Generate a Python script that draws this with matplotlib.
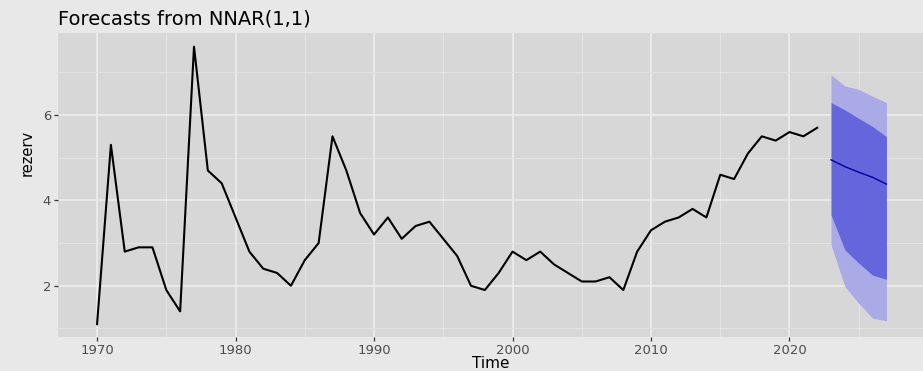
import matplotlib
matplotlib.use("Agg")
import matplotlib.pyplot as plt
import numpy as np

# ---- data ----
years = list(range(1970, 2023))
rezerv = [1.1, 5.3, 2.8, 2.9, 2.9, 1.9, 1.4, 7.6, 4.7, 4.4,
          3.6, 2.8, 2.4, 2.3, 2.0, 2.6, 3.0, 5.5, 4.7, 3.7,
          3.2, 3.6, 3.1, 3.4, 3.5, 3.1, 2.7, 2.0, 1.9, 2.3,
          2.8, 2.6, 2.8, 2.5, 2.3, 2.1, 2.1, 2.2, 1.9, 2.8,
          3.3, 3.5, 3.6, 3.8, 3.6, 4.6, 4.5, 5.1, 5.5, 5.4,
          5.6, 5.5, 5.7]
fc_years = [2023, 2024, 2025, 2026, 2027]
fc_mean = [4.95, 4.79, 4.66, 4.54, 4.38]
lo80 = [3.66, 2.84, 2.53, 2.25, 2.15]
hi80 = [6.29, 6.12, 5.92, 5.73, 5.49]
lo95 = [2.96, 1.98, 1.59, 1.24, 1.18]
hi95 = [6.94, 6.68, 6.60, 6.44, 6.29]
x_ticks = [1970, 1980, 1990, 2000, 2010, 2020]
y_ticks = [2, 4, 6]

W, H = 923, 371
fig = plt.figure(figsize=(W / 100, H / 100), dpi=100)
fig.patch.set_facecolor("#e8e8e8")
ax = fig.add_axes([58 / W, (H - 337) / H, (W - 58) / W, (337 - 33) / H])
ax.set_facecolor("#d7d7d7")

ax.set_xlim(1967.18, 2029.64)
ax.set_ylim(0.80, 7.92)

# grid
ax.set_xticks(x_ticks)
ax.set_xticks([1975, 1985, 1995, 2005, 2015, 2025], minor=True)
ax.set_yticks(y_ticks)
ax.set_yticks([1, 3, 5, 7], minor=True)
ax.grid(which="major", color="#efefef", linewidth=1.1)
ax.grid(which="minor", color="#e6e6e6", linewidth=0.6)
ax.set_axisbelow(True)

for s in ax.spines.values():
    s.set_visible(False)

ax.tick_params(which="major", length=3, width=0.9, color="#333333",
               labelsize=9.5, labelcolor="#4d4d4d", pad=2)
ax.tick_params(which="minor", length=0)

ax.fill_between(fc_years, lo95, hi95, color="#aaaae6", linewidth=0)
ax.fill_between(fc_years, lo80, hi80, color="#6666dc", linewidth=0)
ax.plot(fc_years, fc_mean, color="#0000a0", linewidth=1.0)
ax.plot(years, rezerv, color="black", linewidth=1.5)

fig.text(491 / W, 1 - 363.5 / H, "Time", fontsize=11, ha="center",
         va="center", color="black")
fig.text(27 / W, 1 - 153 / H, "rezerv", fontsize=10.5, ha="center",
         va="center", rotation=90, color="black")
fig.text(58 / W, 1 - 19 / H, "Forecasts from NNAR(1,1)", fontsize=14,
         ha="left", va="center", color="black")

fig.savefig("out.png", dpi=100, facecolor=fig.get_facecolor())
